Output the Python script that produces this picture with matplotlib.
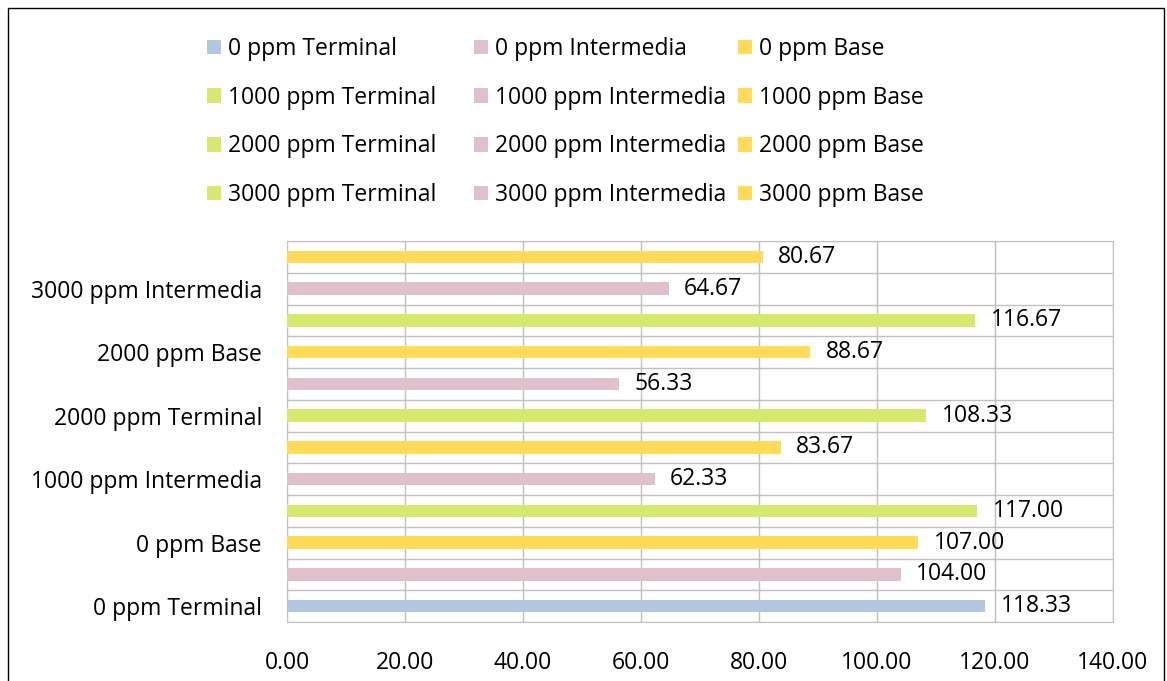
import matplotlib.pyplot as plt
import matplotlib.patches as mpatches
import numpy as np

plt.rcParams['font.family'] = ['Open Sans', 'DejaVu Sans']

categories = [
    '0 ppm Terminal', '0 ppm Intermedia', '0 ppm Base',
    '1000 ppm Terminal', '1000 ppm Intermedia', '1000 ppm Base',
    '2000 ppm Terminal', '2000 ppm Intermedia', '2000 ppm Base',
    '3000 ppm Terminal', '3000 ppm Intermedia', '3000 ppm Base',
]
values = [118.33, 104.00, 107.00, 117.00, 62.33, 83.67,
          108.33, 56.33, 88.67, 116.67, 64.67, 80.67]
colors = ['#B4C7E0', '#E0C0CB', '#FFDB58',
          '#D5E96C', '#E0C0CB', '#FFDB58',
          '#D5E96C', '#E0C0CB', '#FFDB58',
          '#D5E96C', '#E0C0CB', '#FFDB58']
xticks = [0, 20, 40, 60, 80, 100, 120, 140]

FS = 16.5
W, H = 1167, 681

fig = plt.figure(figsize=(W / 100, H / 100), dpi=100)
ax = fig.add_axes([287 / W, 1 - 622 / H, 826 / W, 381 / H])

y = np.arange(len(categories))
handles = []
for i, (cat, val, col) in enumerate(zip(categories, values, colors)):
    b = ax.barh(y[i], val, height=0.4, color=col, label=cat, zorder=3)
    handles.append(b)
    ax.text(val + 2.6, y[i], f'{val:.2f}', va='center', ha='left',
            fontsize=FS, zorder=4)

ax.set_xlim(0, 140)
ax.set_ylim(-0.5, len(categories) - 0.5)
ax.set_xticks(xticks)
ax.set_xticklabels([f'{v:.2f}' for v in xticks], fontsize=FS)
ax.set_yticks(y[::2])
ax.set_yticklabels(categories[::2], fontsize=FS)
ax.tick_params(axis='x', length=0, pad=21)
ax.tick_params(axis='y', length=0, pad=18)

# gridlines: vertical at ticks, horizontal between categories
ax.set_yticks(np.arange(-0.5, len(categories), 1), minor=True)
ax.tick_params(which='minor', length=0)
ax.grid(True, axis='x', color='#C0C0C0', linewidth=1, zorder=0)
ax.grid(True, axis='y', which='minor', color='#C0C0C0', linewidth=1, zorder=0)
for s in ax.spines.values():
    s.set_color('#C0C0C0')

# legend: 3 fixed-width columns, entries run row by row
col_x = [207, 474, 738]
for c, x0 in enumerate(col_x):
    idx = list(range(c, len(categories), 3))
    lg = fig.legend([handles[i] for i in idx], [categories[i] for i in idx],
                    loc='upper left', bbox_to_anchor=(x0 / W, 1 - 37 / H),
                    frameon=False, fontsize=FS, handlelength=0.6,
                    handleheight=0.6, handletextpad=0.3, labelspacing=1.08,
                    borderpad=0, borderaxespad=0)

# outer border
fig.patches.append(mpatches.Rectangle((8 / W, -0.05), 1156 / W, 1.05 - 8 / H,
                                      transform=fig.transFigure, fill=False,
                                      edgecolor='black', linewidth=1))

fig.savefig('out.png', dpi=100)
